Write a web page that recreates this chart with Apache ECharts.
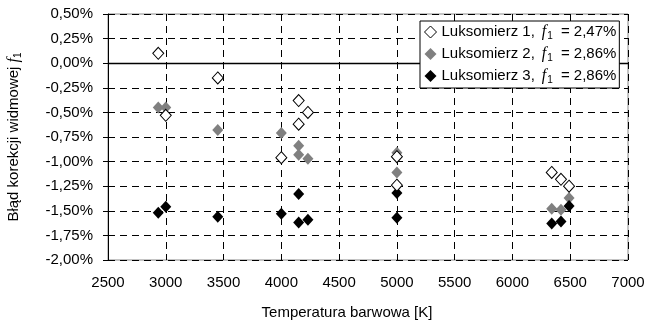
<!DOCTYPE html>
<html><head><meta charset="utf-8">
<script src="https://cdn.jsdelivr.net/npm/echarts@6/dist/echarts.min.js"></script>
<style>html,body{margin:0;padding:0;background:#fff}#c{width:656px;height:325px}</style>
</head><body><div id="c"></div>
<script>
const seriesNames = ['Luksomierz 1', 'Luksomierz 2', 'Luksomierz 3'];
const f1Values = ['2,47%', '2,86%', '2,86%'];
const temp1 = [2935, 3000, 3450, 4000, 4150, 4150, 4230, 5000, 5000, 6340, 6420, 6490];
const err1  = [0.10, -0.53, -0.15, -0.96, -0.38, -0.62, -0.50, -0.95, -1.24, -1.11, -1.18, -1.25];
const temp2 = [2935, 3000, 3450, 4000, 4150, 4150, 4230, 5000, 5000, 6340, 6420, 6490];
const err2  = [-0.45, -0.45, -0.68, -0.71, -0.84, -0.93, -0.97, -0.91, -1.11, -1.48, -1.49, -1.37];
const temp3 = [2935, 3000, 3450, 4000, 4150, 4150, 4230, 5000, 5000, 6340, 6420, 6490];
const err3  = [-1.52, -1.46, -1.56, -1.53, -1.33, -1.62, -1.59, -1.32, -1.57, -1.63, -1.61, -1.45];
const xTicks = {min: 2500, max: 7000, interval: 500};
const yTicks = {min: -2.0, max: 0.5, interval: 0.25};

const zip = (a, b) => a.map((v, i) => [v, b[i]]);
const font = 'Liberation Sans, Arial, sans-serif';
const FS = 15;
const chart = echarts.init(document.getElementById('c'));
const styles = [
  {color: '#ffffff', borderColor: '#000', borderWidth: 1, opacity: 1},
  {color: '#808080', borderColor: '#808080', borderWidth: 0, opacity: 1},
  {color: '#000000', borderColor: '#000', borderWidth: 0, opacity: 1}
];
const datas = [zip(temp1, err1), zip(temp2, err2), zip(temp3, err3)];
const series = datas.map((d, i) => ({
  name: seriesNames[i],
  type: 'scatter',
  symbol: 'diamond',
  symbolSize: [11, 12],
  itemStyle: styles[i],
  data: d,
  z: 3 + (i === 0 ? 2 : 0),
  emphasis: {disabled: true}
}));
series[0].markLine = {
  silent: true, symbol: 'none', label: {show: false},
  lineStyle: {color: '#000', type: 'solid', width: 1.3},
  data: [{yAxis: 0}]
};
const rich = {
  t: {fontFamily: font, fontSize: FS, color: '#000'},
  i: {fontFamily: 'Liberation Serif, serif', fontStyle: 'italic', fontSize: 16, color: '#000', padding: [0, 0, 0, 7]},
  s: {fontFamily: font, fontSize: 10, color: '#000', verticalAlign: 'bottom', padding: [8, 0, 0, 1]},
  e: {fontFamily: font, fontSize: FS, color: '#000', padding: [0, 0, 0, 8]}
};
chart.setOption({
  animation: false,
  backgroundColor: '#fff',
  grid: {left: 108, right: 28, top: 14, bottom: 65, show: true, borderColor: '#8a8a8a', borderWidth: 1,
         containLabel: false, outerBoundsMode: 'none'},
  legend: {
    orient: 'vertical', left: 420, top: 21,
    backgroundColor: '#fff', borderColor: '#000', borderWidth: 1,
    padding: [3, 3, 3, 4], itemGap: 5, itemWidth: 12, itemHeight: 12,
    z: 10,
    data: seriesNames.map((n, i) => ({name: n, itemStyle: styles[i]})),
    formatter: function (name) {
      const i = seriesNames.indexOf(name);
      return '{t|' + name + ',}{i|f}{s|1}{e|= ' + f1Values[i] + '}';
    },
    textStyle: {rich: rich, padding: [0, 0, 0, 0]}
  },
  xAxis: {
    type: 'value', min: xTicks.min, max: xTicks.max, interval: xTicks.interval,
    name: 'Temperatura barwowa [K]', nameLocation: 'middle', nameGap: 45,
    nameTextStyle: {fontFamily: font, fontSize: FS, color: '#000', padding: [0, 42, 0, 0]},
    axisLine: {show: true, lineStyle: {color: '#000', width: 1}},
    axisTick: {show: true, length: 5, lineStyle: {color: '#000'}},
    axisLabel: {fontFamily: font, fontSize: FS, color: '#000', margin: 15,
      formatter: v => String(v)},
    splitLine: {show: true, lineStyle: {color: '#000', type: [7, 5], width: 1}}
  },
  yAxis: {
    type: 'value', min: yTicks.min, max: yTicks.max, interval: yTicks.interval,
    name: '{t|Błąd korekcji widmowej }{i|f}{s|1}', nameLocation: 'middle', nameGap: 85,
    nameTextStyle: {rich: {
      t: {fontFamily: font, fontSize: FS, color: '#000'},
      i: {fontFamily: 'Liberation Serif, serif', fontStyle: 'italic', fontSize: 16, color: '#000'},
      s: {fontFamily: font, fontSize: 10, color: '#000', verticalAlign: 'bottom', padding: [8, 0, 0, 0]}
    }},
    axisLine: {show: true, onZero: false, lineStyle: {color: '#000', width: 1}},
    axisTick: {show: true, length: 5, lineStyle: {color: '#000'}},
    axisLabel: {fontFamily: font, fontSize: FS, color: '#000', margin: 15,
      formatter: v => v.toFixed(2).replace('.', ',') + '%'},
    splitLine: {show: true, lineStyle: {color: '#000', type: [7, 5], width: 1}}
  },
  series: series
});
</script></body></html>
